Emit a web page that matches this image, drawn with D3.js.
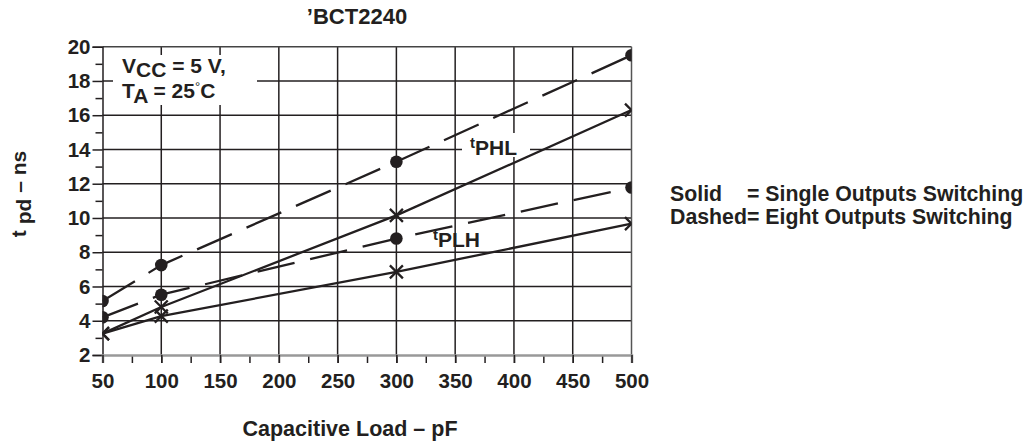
<!DOCTYPE html>
<html>
<head>
<meta charset="utf-8">
<script src="https://cdn.jsdelivr.net/npm/d3@7"></script>
<style>
  html, body { margin: 0; padding: 0; background: #fff; }
  svg { display: block; font-family: "Liberation Sans", Arial, Helvetica, sans-serif; font-weight: bold; }
</style>
</head>
<body>
<svg id="chart" width="1028" height="446"></svg>
<script>
// ---- data ----
const capLoad = [50, 100, 300, 500];
const tphlSingle = [3.25, 4.8, 10.15, 16.3];
const tplhSingle = [3.25, 4.27, 6.85, 9.67];
const tphlEight = [5.15, 7.25, 13.28, 19.5];
const tplhEight = [4.2, 5.52, 8.8, 11.78];
const xTickLabels = [50, 100, 150, 200, 250, 300, 350, 400, 450, 500];
const xMinorTicks = [50, 75, 100, 125, 150, 175, 200, 225, 250, 275, 300, 325, 350, 375, 400, 425, 450, 475, 500];
const yTickLabels = [2, 4, 6, 8, 10, 12, 14, 16, 18, 20];
const yMinorTicks = [3, 5, 7, 9, 11, 13, 15, 17, 19];

const ink = "#231f20";
const svg = d3.select("#chart");
const L = 102.5, R = 631.5, T = 46.7, B = 355;
const x = d3.scaleLinear().domain([50, 500]).range([L, R]);
const y = d3.scaleLinear().domain([2, 20]).range([B, T]);

// grid
const g = svg.append("g");
g.selectAll("line.hg").data(yTickLabels.filter(v => v > 2 && v < 20)).join("line")
  .attr("x1", L).attr("x2", R).attr("y1", d => y(d)).attr("y2", d => y(d))
  .attr("stroke", ink).attr("stroke-width", 1.5);
g.selectAll("line.vg").data(xTickLabels.filter(v => v > 50 && v < 500)).join("line")
  .attr("y1", T).attr("y2", B).attr("x1", d => x(d)).attr("x2", d => x(d))
  .attr("stroke", ink).attr("stroke-width", 1.5);

// borders
svg.append("line").attr("x1", L).attr("x2", R).attr("y1", T).attr("y2", T).attr("stroke", "#444").attr("stroke-width", 1.5);
svg.append("line").attr("x1", R).attr("x2", R).attr("y1", T).attr("y2", B).attr("stroke", "#555").attr("stroke-width", 1.5);

// y axis
const yAxis = d3.axisLeft(y).tickValues(yTickLabels).tickSize(10).tickPadding(2).tickFormat(d3.format("d"));
const ya = svg.append("g").attr("transform", `translate(${L},0)`).call(yAxis);
ya.select(".domain").attr("stroke", ink).attr("stroke-width", 1.5);
ya.selectAll(".tick line").attr("stroke", ink).attr("stroke-width", 1.5);
ya.selectAll(".tick text").attr("fill", ink).attr("font-size", 20.5).attr("font-family", "Liberation Sans, Arial, sans-serif").attr("font-weight", "bold");
const yMinor = d3.axisLeft(y).tickValues(yMinorTicks).tickSize(7).tickFormat("");
const ym = svg.append("g").attr("transform", `translate(${L},0)`).call(yMinor);
ym.select(".domain").remove();
ym.selectAll(".tick line").attr("stroke", ink).attr("stroke-width", 1.5);

// x axis
const xMinor = d3.axisBottom(x).tickValues(xMinorTicks).tickSize(8).tickFormat("");
const xm = svg.append("g").attr("transform", `translate(0,${B})`).call(xMinor);
xm.select(".domain").remove();
xm.selectAll(".tick line").attr("stroke", ink).attr("stroke-width", 1.5);
const xAxis = d3.axisBottom(x).tickValues(xTickLabels).tickSize(8).tickPadding(10).tickFormat(d3.format("d"));
const xa = svg.append("g").attr("transform", `translate(0,${B})`).call(xAxis);
xa.select(".domain").attr("stroke", "#999").attr("stroke-width", 2.5);
xa.selectAll(".tick line").attr("stroke", ink).attr("stroke-width", 1.5);
xa.selectAll(".tick text").attr("fill", ink).attr("font-size", 20.5).attr("font-family", "Liberation Sans, Arial, sans-serif").attr("font-weight", "bold");

// white label boxes
svg.append("rect").attr("x", 113).attr("y", 55).attr("width", 144).attr("height", 50).attr("fill", "#fff");
svg.append("rect").attr("x", 462).attr("y", 133).attr("width", 68).attr("height", 24).attr("fill", "#fff");

// clip
svg.append("clipPath").attr("id", "plotclip").append("rect")
  .attr("x", L).attr("y", T - 10).attr("width", R - L).attr("height", B - T + 10);
const plot = svg.append("g").attr("clip-path", "url(#plotclip)");

const line = d3.line().x((d, i) => x(capLoad[i])).y(d => y(d));
const series = [
  { vals: tphlSingle, dash: null, marker: "x" },
  { vals: tplhSingle, dash: null, marker: "x" },
  { vals: tphlEight, dash: "38,16", marker: "dot" },
  { vals: tplhEight, dash: "38,16", marker: "dot" }
];
series.forEach(s => {
  plot.append("path").datum(s.vals).attr("d", line)
    .attr("fill", "none").attr("stroke", ink).attr("stroke-width", 2.3)
    .attr("stroke-dasharray", s.dash);
  s.vals.forEach((v, i) => {
    const cx = x(capLoad[i]), cy = y(v);
    if (s.marker === "dot") {
      plot.append("circle").attr("cx", cx).attr("cy", cy).attr("r", 6.3).attr("fill", ink);
    } else {
      const h = 6.5;
      plot.append("path").attr("d", `M${cx - h},${cy - h}L${cx + h},${cy + h}M${cx - h},${cy + h}L${cx + h},${cy - h}`)
        .attr("stroke", ink).attr("stroke-width", 2.3).attr("fill", "none");
    }
  });
});

// annotation
const ann = svg.append("g").attr("fill", ink).attr("font-size", 21);
const t1 = ann.append("text").attr("x", 122).attr("y", 73);
t1.append("tspan").text("V");
t1.append("tspan").attr("dy", 4).text("CC");
t1.append("tspan").attr("dy", -4).text(" = 5 V,");
const t2 = ann.append("text").attr("x", 122).attr("y", 98);
t2.append("tspan").text("T");
t2.append("tspan").attr("dy", 5).text("A");
t2.append("tspan").attr("dy", -5).text(" = 25");
t2.append("tspan").attr("dy", -7).attr("font-size", 13).attr("font-weight", "normal").text("°");
t2.append("tspan").attr("dy", 7).text("C");

// curve labels
function tLabel(xp, yp, sub) {
  const t = svg.append("text").attr("x", xp).attr("y", yp).attr("fill", ink).attr("font-size", 21);
  t.append("tspan").attr("font-size", 15).text("t");
  t.append("tspan").attr("dy", 7).text(sub);
}
tLabel(470, 148, "PHL");
tLabel(433, 240, "PLH");

// title
svg.append("text").attr("x", 357).attr("y", 24).attr("text-anchor", "middle").attr("fill", ink).attr("font-size", 22).text("’BCT2240");

// axis titles
svg.append("text").attr("x", 350).attr("y", 436).attr("text-anchor", "middle").attr("fill", ink).attr("font-size", 21.5).text("Capacitive Load – pF");
const yl = svg.append("text").attr("transform", "translate(26,194) rotate(-90)").attr("text-anchor", "middle").attr("fill", ink).attr("font-size", 21);
yl.append("tspan").text("t ");
yl.append("tspan").attr("dy", 5).text("pd");
yl.append("tspan").attr("dy", -5).text(" – ns");

// legend
const lg = svg.append("g").attr("fill", ink).attr("font-size", 21.3);
lg.append("text").attr("x", 670).attr("y", 201).text("Solid");
lg.append("text").attr("x", 747).attr("y", 201).text("= Single Outputs Switching");
lg.append("text").attr("x", 670).attr("y", 224).text("Dashed");
lg.append("text").attr("x", 747).attr("y", 224).text("= Eight Outputs Switching");
</script>
</body>
</html>
